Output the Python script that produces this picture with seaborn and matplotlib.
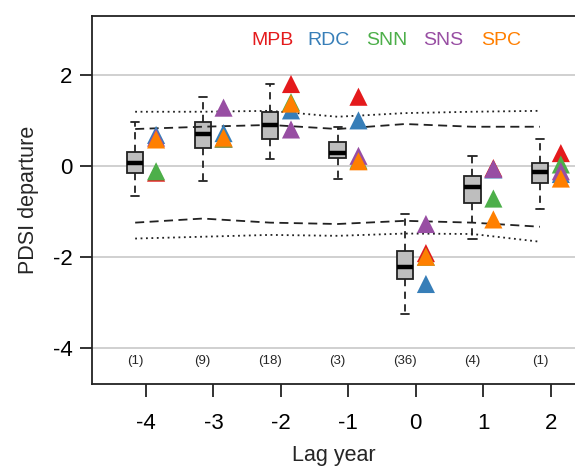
import numpy as np
import pandas as pd
import matplotlib
matplotlib.use("Agg")
import matplotlib.pyplot as plt
import seaborn as sns

# Lag years and sample counts
lags = [-4, -3, -2, -1, 0, 1, 2]
counts = [1, 9, 18, 3, 36, 4, 1]

# Box statistics: whisker low, q1, median, q3, whisker high
box_low = [-0.66, -0.33, 0.15, -0.29, -3.25, -1.60, -0.94]
box_q1 = [-0.15, 0.40, 0.59, 0.18, -2.48, -0.81, -0.37]
box_med = [0.07, 0.70, 0.90, 0.29, -2.22, -0.46, -0.13]
box_q3 = [0.31, 0.97, 1.19, 0.53, -1.87, -0.22, 0.07]
box_high = [0.97, 1.52, 1.80, 0.86, -1.05, 0.22, 0.59]

# Site departures (triangles)
sites = ["MPB", "RDC", "SNN", "SNS", "SPC"]
site_colors = ["#e41a1c", "#377eb8", "#4daf4a", "#984ea3", "#ff7f00"]
mpb = [-0.15, 0.60, 1.80, 1.52, -1.92, -0.05, 0.28]
rdc = [0.68, 0.72, 1.22, 1.00, -2.60, -0.08, -0.18]
snn = [-0.12, 0.60, 1.40, 0.12, -2.00, -0.72, 0.03]
sns_ = [0.62, 1.28, 0.80, 0.22, -1.28, -0.07, -0.12]
spc = [0.58, 0.62, 1.37, 0.10, -2.00, -1.18, -0.28]

# Confidence thresholds
upper_95 = [0.81, 0.86, 0.90, 0.81, 0.92, 0.86, 0.86]
upper_99 = [1.19, 1.19, 1.21, 1.08, 1.16, 1.19, 1.21]
lower_95 = [-1.25, -1.16, -1.25, -1.28, -1.21, -1.25, -1.34]
lower_99 = [-1.60, -1.56, -1.52, -1.54, -1.49, -1.50, -1.67]

box_shift = -0.16
tri_shift = 0.15

sns.set_style("white")
plt.rcParams["font.family"] = ["Liberation Sans", "DejaVu Sans"]

fig = plt.figure(figsize=(5.75, 4.66), dpi=100)
ax = fig.add_axes([0.16, 0.176, 0.84, 0.79])

# grid lines
for yv in [-4, -2, 0, 2]:
    ax.axhline(yv, color="#c8c8c8", lw=1.2, zorder=0)

# boxes: five values per lag reproduce the read statistics
box_rows = []
for i, lag in enumerate(lags):
    for v in [box_low[i], box_q1[i], box_med[i], box_q3[i], box_high[i]]:
        box_rows.append({"pos": lag + box_shift, "value": v})
box_df = pd.DataFrame(box_rows)
sns.boxplot(data=box_df, x="pos", y="value", native_scale=True, whis=(0, 100),
            width=0.24, color="#bebebe", linecolor="#222222", linewidth=1.3,
            showcaps=True, ax=ax,
            medianprops=dict(color="black", linewidth=3.2, zorder=5),
            whiskerprops=dict(linestyle=(0, (4, 3)), linewidth=1.3),
            capprops=dict(linewidth=1.3))

# threshold lines
line_df = pd.DataFrame({"pos": np.array(lags) + box_shift,
                        "u95": upper_95, "u99": upper_99,
                        "l95": lower_95, "l99": lower_99})
for col, ls in [("u95", (0, (5, 3))), ("l95", (0, (5, 3))),
                ("u99", (0, (1, 2))), ("l99", (0, (1, 2)))]:
    sns.lineplot(data=line_df, x="pos", y=col, color="#222222", lw=1.3,
                 linestyle=ls, ax=ax, zorder=2)

# site triangles
tri_df = pd.DataFrame({
    "pos": np.tile(np.array(lags) + tri_shift, len(sites)),
    "value": mpb + rdc + snn + sns_ + spc,
    "site": np.repeat(sites, len(lags)),
})
for site, colr in zip(sites, site_colors):
    sub = tri_df[tri_df["site"] == site]
    sns.scatterplot(data=sub, x="pos", y="value", marker="^", s=170,
                    color=colr, edgecolor="none", ax=ax, zorder=6)

# counts
for lag, c in zip(lags, counts):
    ax.text(lag + box_shift, -4.3, f"({c})", ha="center", va="center", fontsize=9.5)

# site labels
for xpos, site, colr in zip([-2.13, -1.30, -0.43, 0.40, 1.27], sites, site_colors):
    ax.text(xpos, 2.75, site, ha="center", va="center", fontsize=14, color=colr)

ax.set_xlim(-4.8, 2.36)
ax.set_ylim(-4.8, 3.3)
ax.set_xticks(lags)
ax.set_xticklabels([str(l) for l in lags])
ax.set_yticks([-4, -2, 0, 2])
ax.set_yticklabels(["-4", "-2", "0", "2"])
ax.tick_params(axis="both", direction="out", length=9, width=1.3, labelsize=16,
               bottom=True, left=True, colors="#222222", labelcolor="black")
ax.tick_params(axis="x", pad=12)
ax.tick_params(axis="y", pad=5)
ax.set_xlabel("Lag year", fontsize=15.5, labelpad=8)
ax.set_ylabel("PDSI departure", fontsize=15.5, labelpad=10)
ax.spines["right"].set_visible(False)
for s in ["left", "top", "bottom"]:
    ax.spines[s].set_color("#222222")
    ax.spines[s].set_linewidth(1.3)

fig.savefig("out.png", dpi=100)
